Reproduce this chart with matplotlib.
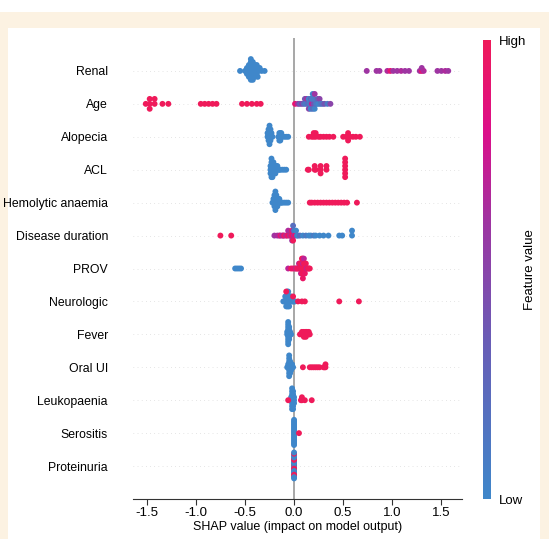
import numpy as np
import matplotlib
matplotlib.use("Agg")
from matplotlib import pyplot as plt
from matplotlib.colors import LinearSegmentedColormap
from matplotlib.patches import Rectangle

plt.rcParams['font.family'] = ['Liberation Sans', 'DejaVu Sans']

# features, top to bottom
features = ['Renal', 'Age', 'Alopecia', 'ACL', 'Hemolytic anaemia', 'Disease duration',
            'PROV', 'Neurologic', 'Fever', 'Oral UI', 'Leukopaenia', 'Serositis', 'Proteinuria']

# SHAP values and (normalised) feature values
renal_shap = [-0.55, -0.50, -0.49, -0.48, -0.48, -0.47, -0.47, -0.46, -0.46, -0.46, -0.45, -0.45,
              -0.45, -0.45, -0.44, -0.44, -0.44, -0.44, -0.43, -0.43, -0.43, -0.43, -0.42, -0.42,
              -0.42, -0.41, -0.41, -0.41, -0.40, -0.40, -0.39, -0.39, -0.38, -0.38, -0.37, -0.36,
              -0.35, -0.33, -0.30,
              0.74, 0.84, 0.87, 0.95, 0.98, 1.01, 1.05, 1.09, 1.13, 1.17, 1.28, 1.30, 1.30, 1.32,
              1.46, 1.50, 1.54, 1.57]
renal_fv = [0.0] * 39 + [0.6, 0.6, 0.6, 0.65, 0.9, 0.6, 0.6, 0.65, 0.6, 0.6, 0.6, 0.9, 0.6, 0.65,
                         0.6, 0.6, 0.65, 0.6]

age_shap = [-1.51, -1.47, -1.47, -1.47, -1.42, -1.42, -1.34, -1.28,
            -0.95, -0.91, -0.87, -0.83, -0.79,
            -0.53, -0.48, -0.43, -0.38, -0.34,
            0.01, 0.04, 0.06, 0.08, 0.10, 0.11, 0.12, 0.13, 0.14, 0.15, 0.15, 0.16, 0.17, 0.17,
            0.18, 0.18, 0.19, 0.19, 0.20, 0.20, 0.21, 0.21, 0.22, 0.23, 0.24, 0.25, 0.26, 0.27,
            0.29, 0.31, 0.34, 0.37]
age_fv = [1.0] * 18 + [0.9, 0.6, 0.3, 0.5, 0.2, 0.4, 0.1, 0.6, 0.2, 0.0, 0.5, 0.1, 0.3, 0.0,
                       0.7, 0.1, 0.2, 0.0, 0.4, 0.1, 0.0, 0.6, 0.2, 0.1, 0.3, 0.0, 0.5, 0.1,
                       0.2, 0.4, 0.1, 0.5]

alopecia_shap = [-0.27, -0.27, -0.26, -0.26, -0.26, -0.26, -0.25, -0.25, -0.25, -0.25, -0.25,
                 -0.25, -0.24, -0.24, -0.24, -0.24, -0.23, -0.23, -0.22,
                 -0.16, -0.15, -0.15, -0.15, -0.14, -0.14, -0.14, -0.13, -0.13, -0.12, -0.10,
                 -0.08, -0.06,
                 0.15, 0.18, 0.20, 0.20, 0.22, 0.22, 0.25, 0.27, 0.30, 0.33, 0.36, 0.40,
                 0.50, 0.53, 0.55, 0.55, 0.55, 0.57, 0.60, 0.63, 0.67]
alopecia_fv = [0.0] * 32 + [1.0] * 21

acl_shap = [-0.24, -0.24, -0.24, -0.23, -0.23, -0.23, -0.23, -0.23, -0.23, -0.22, -0.22, -0.22,
            -0.22, -0.22, -0.21, -0.21, -0.21, -0.21, -0.20, -0.20, -0.20, -0.19, -0.19, -0.19,
            -0.18, -0.18, -0.17, -0.17, -0.16, -0.15, -0.14, -0.12, -0.10, -0.08,
            0.14, 0.15, 0.21, 0.21, 0.22, 0.27, 0.27, 0.27, 0.33, 0.33,
            0.52, 0.52, 0.52, 0.52, 0.52, 0.52]
acl_fv = [0.0] * 34 + [1.0] * 16

hemo_shap = [-0.22, -0.21, -0.21, -0.20, -0.20, -0.20, -0.20, -0.19, -0.19, -0.19, -0.19, -0.19,
             -0.19, -0.18, -0.18, -0.18, -0.18, -0.17, -0.17, -0.17, -0.16, -0.16, -0.15, -0.15,
             -0.14, -0.13, -0.12, -0.10, -0.08, -0.06,
             0.16, 0.18, 0.21, 0.24, 0.27, 0.30, 0.33, 0.36, 0.39, 0.42, 0.45, 0.48, 0.51, 0.54,
             0.64]
hemo_fv = [0.0] * 30 + [1.0] * 15

dur_shap = [-0.75, -0.64,
            -0.20, -0.17, -0.15, -0.14, -0.12, -0.11, -0.10, -0.08, -0.07, -0.06, -0.05, -0.04,
            -0.03, -0.02, -0.02, -0.01, -0.01, -0.01, -0.01, 0.00, 0.00, 0.01, 0.02, 0.03, 0.04,
            0.06,
            0.09, 0.12, 0.15, 0.17, 0.20, 0.22, 0.26, 0.30, 0.35, 0.46, 0.49,
            0.59, 0.59]
dur_fv = [1.0, 1.0,
          0.6, 0.65, 0.6, 0.9, 0.6, 0.7, 0.95, 0.6, 0.9, 0.65, 1.0, 0.6, 0.9, 1.0, 0.6, 0.95,
          0.7, 1.0, 0.2, 0.6, 0.1, 0.9, 0.0, 0.1, 0.0, 0.2,
          0.0, 0.1, 0.0, 0.0, 0.1, 0.0, 0.0, 0.0, 0.0, 0.0, 0.0, 0.0, 0.0]

prov_shap = [-0.60, -0.58, -0.56, -0.54,
             -0.06, -0.03, -0.01, 0.01, 0.02, 0.03, 0.04, 0.05, 0.05, 0.06, 0.06, 0.07, 0.07,
             0.07, 0.08, 0.08, 0.08, 0.08, 0.09, 0.09, 0.09, 0.09, 0.09, 0.10, 0.10, 0.10, 0.10,
             0.11, 0.11, 0.11, 0.12, 0.12, 0.13, 0.14, 0.15, 0.16]
prov_fv = [0.0] * 4 + [0.7, 1.0, 0.9, 1.0, 0.7, 1.0, 1.0, 0.95, 0.7, 1.0, 1.0, 0.95, 1.0, 0.7,
                       1.0, 1.0, 0.95, 1.0, 1.0, 0.7, 1.0, 1.0, 0.95, 1.0, 1.0, 1.0, 0.7, 1.0,
                       1.0, 0.95, 1.0, 1.0, 0.7, 1.0, 1.0, 1.0]

neuro_shap = [-0.11, -0.10, -0.09, -0.09, -0.08, -0.08, -0.08, -0.07, -0.07, -0.07, -0.07, -0.06,
              -0.06, -0.06, -0.06, -0.05, -0.05, -0.05, -0.04, -0.04, -0.03, -0.03, -0.02, -0.01,
              0.00, 0.01,
              -0.08, -0.01, 0.04, 0.08, 0.11, 0.46, 0.66]
neuro_fv = [0.0] * 26 + [1.0] * 7

fever_shap = [-0.07, -0.07, -0.06, -0.06, -0.06, -0.06, -0.06, -0.06, -0.06, -0.06, -0.06, -0.06,
              -0.05, -0.05, -0.05, -0.05, -0.05, -0.05, -0.04, -0.04, -0.03,
              0.06, 0.08, 0.08, 0.10, 0.10, 0.10, 0.12, 0.12, 0.12, 0.13, 0.13, 0.15, 0.15, 0.16]
fever_fv = [0.0] * 21 + [1.0] * 14

oral_shap = [-0.07, -0.06, -0.06, -0.05, -0.05, -0.05, -0.05, -0.05, -0.05, -0.05, -0.05, -0.04,
             -0.04, -0.04, -0.04, -0.04, -0.03, -0.03, -0.03, -0.02, -0.02, -0.01,
             0.09, 0.16, 0.18, 0.20, 0.22, 0.24, 0.26, 0.30, 0.31, 0.32, 0.32]
oral_fv = [0.0] * 22 + [1.0] * 11

leuko_shap = [-0.03, -0.03, -0.02, -0.02, -0.02, -0.02, -0.02, -0.02, -0.02, -0.02, -0.01, -0.01,
              -0.01, -0.01, -0.01, -0.01, -0.01, 0.00, 0.00, 0.00,
              -0.06, 0.07, 0.08, 0.08, 0.11, 0.18]
leuko_fv = [0.0] * 20 + [1.0] * 6

sero_shap = [0.00, 0.00, 0.00, 0.00, 0.00, 0.00, 0.00, 0.00, 0.00, 0.00, 0.00, 0.00, 0.00, 0.00,
             0.00, 0.00, 0.00, 0.00, 0.05]
sero_fv = [0.0] * 18 + [1.0]

prot_shap = [0.00] * 22
prot_fv = [0.0, 1.0, 0.0, 0.0, 1.0, 0.0, 1.0, 0.0, 0.0, 1.0, 0.0, 1.0, 0.0, 0.0, 1.0, 0.0, 1.0,
           0.0, 0.0, 1.0, 0.0, 0.0]

shap_lists = [renal_shap, age_shap, alopecia_shap, acl_shap, hemo_shap, dur_shap, prov_shap,
              neuro_shap, fever_shap, oral_shap, leuko_shap, sero_shap, prot_shap]
fv_lists = [renal_fv, age_fv, alopecia_fv, acl_fv, hemo_fv, dur_fv, prov_fv,
            neuro_fv, fever_fv, oral_fv, leuko_fv, sero_fv, prot_fv]

cmap = LinearSegmentedColormap.from_list(
    'shap_rb', [(0.0, '#3f87ca'), (0.35, '#6a5cb6'), (0.6, '#9e35a2'),
                (0.8, '#dc0f8a'), (1.0, '#ef1a5a')])


# beeswarm offsets, same idea as shap's summary plot (binning + stacking)
def swarm_offsets(vals, nbins=100, row_height=0.5):
    vals = np.asarray(vals, dtype=float)
    n = len(vals)
    quant = np.round(nbins * (vals - vals.min()) / (vals.max() - vals.min() + 1e-8))
    inds = np.argsort(quant + np.arange(n) * 1e-6)
    layer = 0
    last_bin = -1
    ys = np.zeros(n)
    for ind in inds:
        if quant[ind] != last_bin:
            layer = 0
        ys[ind] = np.ceil(layer / 2) * ((layer % 2) * 2 - 1)
        layer += 1
        last_bin = quant[ind]
    ys *= 0.9 * (row_height / np.max(ys + 1))
    return ys


W, H = 549, 539
fig = plt.figure(figsize=(W / 100, H / 100), dpi=100, facecolor='white')
# beige frame and white panel
fig.patches.append(Rectangle((0, 0), 1, 527 / H, transform=fig.transFigure,
                             facecolor='#fcf2e2', edgecolor='none', zorder=-10))
fig.patches.append(Rectangle((8 / W, 0), 532 / W, 511 / H, transform=fig.transFigure,
                             facecolor='white', edgecolor='none', zorder=-9))

ax = fig.add_axes([133 / W, 40 / H, 329 / W, 461 / H])
ax.set_facecolor('none')
n = len(features)
for i, (sv, fv) in enumerate(zip(shap_lists, fv_lists)):
    pos = n - 1 - i
    ax.axhline(pos, color='#cccccc', lw=0.5, dashes=(1, 5), zorder=-1)
    ys = swarm_offsets(sv)
    ax.scatter(sv, pos + ys, c=fv, cmap=cmap, vmin=0, vmax=1, s=18, linewidth=0,
               alpha=1, zorder=3)

ax.axvline(0, color='#a0a0a0', lw=1.3, zorder=-1)
ax.set_xlim(-1.64, 1.71)
ax.set_ylim(-1, n)
ax.set_yticks(range(n))
ax.set_yticklabels(features[::-1], fontsize=8.8)
ax.set_xticks([-1.5, -1.0, -0.5, 0.0, 0.5, 1.0, 1.5])
ax.set_xticklabels(['-1.5', '-1.0', '-0.5', '0.0', '0.5', '1.0', '1.5'], fontsize=9.5)
ax.tick_params(axis='y', length=0, pad=18)
ax.tick_params(axis='x', length=4, width=0.8, color='#333333', pad=2)
for side in ['top', 'right', 'left']:
    ax.spines[side].set_visible(False)
ax.spines['bottom'].set_color('#333333')
ax.spines['bottom'].set_linewidth(0.8)
ax.set_xlabel('SHAP value (impact on model output)', fontsize=9, labelpad=1)

# colour bar
cax = fig.add_axes([483 / W, 40 / H, 8 / W, 459 / H])
grad = np.linspace(0, 1, 256).reshape(-1, 1)
cax.imshow(grad, aspect='auto', cmap=cmap, origin='lower', extent=[0, 1, 0, 1])
cax.set_xticks([])
cax.yaxis.tick_right()
cax.set_yticks([0.0, 1.0])
cax.set_yticklabels(['Low', 'High'], fontsize=9.5)
cax.tick_params(axis='y', length=0, pad=6)
for s in cax.spines.values():
    s.set_visible(False)
cax.yaxis.set_label_position('right')
cax.set_ylabel('Feature value', fontsize=9.5, labelpad=-2)

fig.savefig('out.png', dpi=100)
